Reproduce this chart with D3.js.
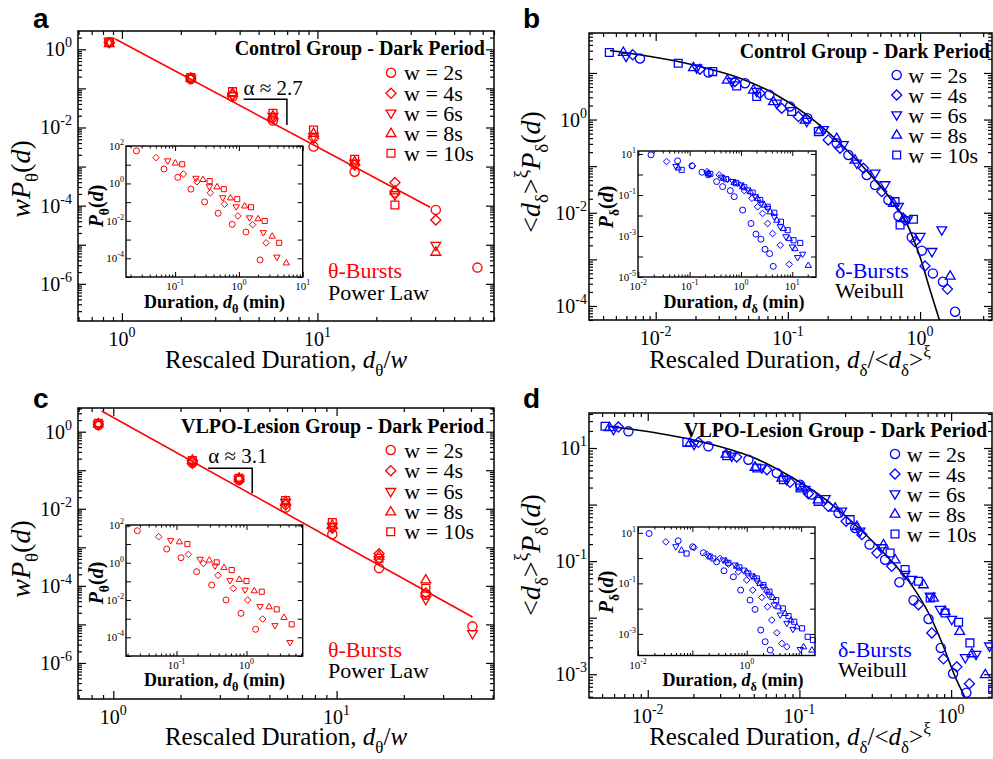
<!DOCTYPE html>
<html><head><meta charset="utf-8">
<script src="https://cdn.jsdelivr.net/npm/d3@7"></script>
<style>body{margin:0;background:#fff}svg{display:block}</style>
</head><body>
<svg id="chart" width="993" height="759"></svg>
<script>
// ---------------- DATA ----------------
const seriesNames = ["w = 2s", "w = 4s", "w = 6s", "w = 8s", "w = 10s"];

// Panel a: theta bursts, control group (rescaled)
const aMain_w2  = [[0.861,1.51],[2.25,0.174],[3.68,0.0616],[5.92,0.015],[9.55,0.00324],[15.5,7.4e-4],[24.9,2.16e-4],[40.3,7.8e-5],[65.8,2.6e-6]];
const aMain_w4  = [[0.861,1.48],[2.25,0.181],[3.68,0.0693],[5.92,0.0172],[9.55,0.0053],[15.5,0.0011],[24.9,3.9e-4],[40.3,4.3e-5]];
const aMain_w6  = [[0.861,1.57],[2.25,0.178],[3.68,0.064],[5.92,0.019],[9.55,0.00584],[15.5,0.00121],[24.9,1.88e-4],[40.3,9.5e-6]];
const aMain_w8  = [[0.861,1.42],[2.25,0.185],[3.68,0.075],[5.92,0.0201],[9.55,0.00711],[15.5,0.00134],[24.9,2.43e-4],[40.3,6.5e-6]];
const aMain_w10 = [[0.861,1.54],[2.25,0.188],[3.68,0.0826],[5.92,0.0231],[9.55,0.00865],[15.5,0.00154],[24.9,1.04e-4]];
const aFit = [[0.925,1.84],[37.7,9.1e-5]];
const aAlpha = {text:"\u03b1 \u2248 2.7", x0:4.19, x1:6.98, yTop:0.0526, yBot:0.0116, yText:0.0678};

// Panel a inset (raw durations, min)
const aIn_w2  = [[0.0248,54.7],[0.067,5.9],[0.110,2.1],[0.177,0.496],[0.290,0.103],[0.472,0.0254],[0.785,0.0065],[1.29,0.00252],[2.15,8.2e-5]];
const aIn_w4  = [[0.0501,24],[0.135,3.18],[0.22,1.23],[0.357,0.315],[0.594,0.0774],[0.965,0.0183],[1.64,0.00625],[2.67,6.7e-4]];
const aIn_w6  = [[0.0766,15.9],[0.212,1.86],[0.344,0.662],[0.559,0.17],[0.908,0.0557],[1.47,0.0143],[2.42,0.00232],[3.94,1.14e-4]];
const aIn_w8  = [[0.101,12.4],[0.273,1.64],[0.455,0.662],[0.738,0.17],[1.23,0.063],[2.0,0.0131],[3.32,0.00153],[5.52,5.7e-5]];
const aIn_w10 = [[0.129,10.5],[0.348,1.33],[0.58,0.496],[0.941,0.144],[1.55,0.0534],[2.54,0.00984],[4.28,6.7e-4]];

// Panel b: delta bursts, control group (rescaled)
const bMain_w2  = [[0.0076,20.4],[0.0251,10.2],[0.0474,6.03],[0.0724,3.39],[0.1038,1.9],[0.1406,1.07],[0.234,0.31],[0.287,0.174],[0.395,0.0648],[0.457,0.0395],[0.576,0.0188],[0.686,0.00853],[0.865,0.00297],[1.03,0.00154],[1.25,5.0e-4],[1.49,3.3e-4],[1.84,7.5e-5]];
const bMain_w4  = [[0.0067,24.5],[0.0216,12.0],[0.0398,6.55],[0.0615,3.68],[0.0898,1.75],[0.120,1.16],[0.202,0.366],[0.248,0.242],[0.373,0.0901],[0.513,0.0284],[0.770,0.0070],[0.916,0.0024],[1.09,7.2e-4],[1.61,2.3e-4]];
const bMain_w6  = [[0.00597,22.5],[0.0204,12.7],[0.0376,6.55],[0.0581,3.99],[0.0822,2.24],[0.139,0.906],[0.186,0.6],[0.263,0.286],[0.332,0.115],[0.457,0.0704],[0.543,0.0395],[0.686,0.0135],[0.802,0.007],[1.0,0.00307],[1.23,0.00146],[1.46,0.00427]];
const bMain_w8  = [[0.00569,27.9],[0.0193,13.1],[0.0348,7.11],[0.0548,4.34],[0.0777,2.44],[0.135,0.984],[0.175,0.6],[0.234,0.397],[0.322,0.136],[0.628,0.016],[0.748,0.0076],[1.69,4.4e-4]];
const bMain_w10 = [[0.00446,27.5],[0.0148,16.2],[0.027,10.7],[0.041,5.28],[0.0581,3.12],[0.107,1.49],[0.170,0.552],[0.647,0.0173],[0.706,0.00547],[0.891,0.00724]];
const bFit = [[0.00451,30.3],[0.0076,24.5],[0.0136,18.5],[0.0243,12.6],[0.0435,7.73],[0.0778,3.67],[0.139,1.26],[0.248,0.31],[0.444,0.055],[0.593,0.0205],[0.792,0.00594],[1.0,1.12e-3],[1.19,2.2e-4],[1.40,5.0e-5]];

// Panel b inset
const bIn_w2  = [[0.0177,9.14],[0.0583,4.64],[0.111,2.64],[0.174,1.29],[0.231,0.955],[0.336,0.451],[0.44,0.256],[0.62,0.163],[0.741,0.0828],[1.08,0.0184],[1.57,0.00408],[1.96,0.00123],[2.45,7.0e-4],[2.94,2.25e-4],[3.62,1.38e-4],[4.26,3.3e-5]];
const bIn_w4  = [[0.0356,4.31],[0.114,2.64],[0.218,1.39],[0.378,0.955],[0.55,0.586],[0.861,0.373],[1.16,0.163],[1.64,0.0687],[2.11,0.0268],[2.64,0.0126],[3.31,0.00408],[4.14,0.00132],[5.84,3.54e-4],[8.74,4.15e-5]];
const bIn_w6  = [[0.0542,2.45],[0.224,1.15],[0.42,0.734],[0.689,0.451],[1.0,0.309],[1.35,0.176],[1.9,0.0828],[2.53,0.0391],[3.31,0.0222],[4.46,0.00867],[5.84,0.0028],[7.53,9.1e-4],[10.1,2.9e-4],[12.7,8.8e-5],[15.9,1.28e-4]];
const bIn_w8  = [[0.06,2.1],[0.231,1.15],[0.459,0.656],[0.741,0.403],[1.08,0.256],[1.52,0.146],[2.11,0.0687],[2.85,0.0324],[3.73,0.0152],[5.03,0.00595],[6.78,0.00232],[8.74,7.5e-4],[11.3,2.43e-4],[20.5,3.7e-5]];
const bIn_w10 = [[0.0699,1.68],[0.253,1.07],[0.51,0.586],[0.8,0.373],[1.16,0.238],[1.69,0.13],[2.38,0.0569],[3.31,0.0268],[4.46,0.0136],[6.02,0.00493],[8.11,0.00192],[10.6,6.2e-4],[14.3,4.6e-4]];

// Panel c: theta bursts, VLPO-lesion group (rescaled)
const cMain_w2  = [[0.857,1.49],[2.26,0.157],[3.66,0.056],[5.91,0.0107],[9.57,0.00219],[15.5,2.88e-4],[25.1,5.9e-5],[40.6,8.9e-6]];
const cMain_w4  = [[0.857,1.58],[2.26,0.174],[3.66,0.0594],[5.91,0.0126],[9.57,0.00313],[15.5,6.8e-4],[25.1,6.5e-5]];
const cMain_w6  = [[0.857,1.52],[2.26,0.151],[3.66,0.0582],[5.91,0.0145],[9.57,0.00346],[15.5,4.7e-4],[25.1,4.4e-5],[40.6,5.7e-6]];
const cMain_w8  = [[0.857,1.61],[2.26,0.184],[3.66,0.063],[5.91,0.0154],[9.57,0.00382],[15.5,6.0e-4],[25.1,1.44e-4]];
const cMain_w10 = [[0.857,1.64],[2.26,0.177],[3.66,0.0618],[5.91,0.0163],[9.57,0.0044],[15.5,5.2e-4],[25.1,8.7e-5]];
const cFit = [[0.887,3.43],[40.6,1.55e-5]];
const cAlpha = {text:"\u03b1 \u2248 3.1", x0:2.66, x1:4.19, yTop:0.1127, yBot:0.0254, yText:0.152};

// Panel c inset
const cIn_w2  = [[0.0276,51.8],[0.0724,5.4],[0.116,1.85],[0.194,0.33],[0.318,0.0636],[0.51,0.0101],[0.834,0.00193],[1.35,2.7e-4]];
const cIn_w4  = [[0.0556,24.7],[0.148,2.79],[0.242,0.921],[0.392,0.21],[0.648,0.0422],[1.04,0.01],[1.70,9.6e-4]];
const cIn_w6  = [[0.0826,15.1],[0.217,1.51],[0.355,0.663],[0.581,0.109],[0.952,0.0343],[1.56,0.0044],[2.55,4.2e-4],[4.18,5.2e-5]];
const cIn_w8  = [[0.11,13.3],[0.294,1.39],[0.477,0.562],[0.79,0.128],[1.29,0.0316],[2.1,0.0044],[3.43,0.00118]];
const cIn_w10 = [[0.143,10],[0.375,1.04],[0.614,0.405],[1.0,0.104],[1.65,0.0279],[2.7,0.00316],[4.42,4.97e-4]];

// Panel d: delta bursts, VLPO-lesion group (rescaled)
const dMain_w2  = [[0.00746,19.7],[0.0251,10.7],[0.0461,6.22],[0.0709,3.61],[0.101,2.25],[0.1205,1.5],[0.181,0.71],[0.233,0.385],[0.29,0.196],[0.367,0.106],[0.456,0.0423],[0.565,0.0203],[0.71,0.0095],[0.855,0.00292],[1.03,0.00103],[1.26,4.7e-4]];
const dMain_w4  = [[0.0064,23.5],[0.0216,12.6],[0.0386,6.93],[0.061,4.14],[0.0867,2.47],[0.1146,1.56],[0.155,0.93],[0.203,0.506],[0.258,0.294],[0.324,0.139],[0.406,0.081],[0.609,0.017],[0.746,0.00537],[0.89,0.00187],[1.09,0.00135],[1.32,6.8e-4]];
const dMain_w6  = [[0.00594,21.1],[0.0202,11.5],[0.0358,7.13],[0.0565,4.43],[0.0825,2.75],[0.109,1.84],[0.148,1.26],[0.19,0.76],[0.251,0.337],[0.349,0.171],[0.497,0.0577],[0.551,0.0471],[0.728,0.0239],[0.846,0.0139],[1.01,0.00925],[1.24,0.00195],[1.46,0.00223],[1.79,0.00313]];
const dMain_w8  = [[0.00559,23.2],[0.019,12.3],[0.0328,7.84],[0.051,4.61],[0.0765,2.95],[0.104,2.05],[0.133,1.22],[0.172,0.871],[0.239,0.413],[0.358,0.196],[0.428,0.106],[0.657,0.0385],[0.765,0.0223],[0.913,0.013],[1.14,0.00575],[1.37,0.00232],[1.68,9.9e-4]];
const dMain_w10 = [[0.00523,24.2],[0.0181,12.6],[0.0332,7.33],[0.0523,4.43],[0.0784,2.75],[0.101,1.96],[0.133,1.14],[0.216,0.541],[0.396,0.139],[0.497,0.0708],[0.609,0.044],[0.728,0.0223],[0.913,0.0121],[1.12,0.0083],[1.33,0.00358],[1.88,5.4e-4]];
const dFit = [[0.00551,24.2],[0.01146,18.4],[0.0245,12.2],[0.0524,6.4],[0.0867,3.16],[0.144,1.31],[0.239,0.413],[0.396,0.106],[0.565,0.0336],[0.728,0.0106],[0.889,0.00313],[1.06,9.2e-4],[1.24,3.8e-4]];

// Panel d inset
const dIn_w2  = [[0.016,9.4],[0.0548,4.83],[0.101,2.8],[0.159,1.62],[0.279,0.714],[0.382,0.315],[0.568,0.182],[0.774,0.0542],[1.15,0.0218],[1.42,0.00933],[1.81,0.00142],[2.18,4.9e-4],[2.7,2.3e-4]];
const dIn_w4  = [[0.0325,4.41],[0.107,2.63],[0.183,1.43],[0.322,0.968],[0.459,0.578],[0.702,0.288],[1.0,0.135],[1.29,0.0542],[1.89,0.0278],[2.41,0.0119],[2.89,0.00353],[3.58,0.00111],[4.43,4.2e-4],[5.47,3.1e-4]];
const dIn_w6  = [[0.0497,2.8],[0.205,1.2],[0.371,0.832],[0.609,0.527],[0.868,0.334],[1.24,0.194],[1.53,0.127],[1.97,0.0734],[2.51,0.0344],[3.19,0.0138],[4.12,0.00557],[5.47,0.00261],[7.06,0.00151],[9.64,2.4e-4]];
const dIn_w8  = [[0.0632,2.07],[0.211,1.12],[0.415,0.782],[0.654,0.481],[1.0,0.288],[1.37,0.182],[1.76,0.0993],[2.34,0.0542],[3.02,0.0278],[3.84,0.0119],[5.09,0.00648],[6.48,0.00353],[8.37,0.00193],[11.1,3.1e-4],[15.8,2.3e-4]];
const dIn_w10 = [[0.0782,1.52],[0.243,0.968],[0.459,0.652],[0.732,0.427],[1.07,0.247],[1.53,0.157],[2.03,0.0855],[2.62,0.0466],[3.48,0.0218],[4.61,0.0102],[5.87,0.00508],[7.47,0.00303],[10.4,0.00166],[13.2,7.7e-4],[16.5,5.7e-4]];

// ---------------- STYLE ----------------
const SERIF = "'Liberation Serif','Times New Roman',Times,serif";
const SANS = "'Liberation Sans',Arial,Helvetica,sans-serif";
const RED = "#ff0000", BLUE = "#0000ff";

const svg = d3.select("#chart");
svg.append("rect").attr("width", 993).attr("height", 759).attr("fill", "#fff");

// custom marker shapes for d3.symbol (size = radius)
const symCircle = {draw(c, r){ c.moveTo(r,0); c.arc(0,0,r,0,2*Math.PI); }};
const symSquare = {draw(c, r){ const h=r*0.85; c.rect(-h,-h,2*h,2*h); }};
const symDiamond = {draw(c, r){ const d=r*1.1; c.moveTo(0,-d); c.lineTo(d,0); c.lineTo(0,d); c.lineTo(-d,0); c.closePath(); }};
const symUp = {draw(c, r){ const a=r*1.12; c.moveTo(0,-a); c.lineTo(a*0.95,a*0.62); c.lineTo(-a*0.95,a*0.62); c.closePath(); }};
const symDown = {draw(c, r){ const a=r*1.12; c.moveTo(0,a); c.lineTo(a*0.95,-a*0.62); c.lineTo(-a*0.95,-a*0.62); c.closePath(); }};
const symbolTypes = [symCircle, symDiamond, symDown, symUp, symSquare];

function decadeTicks(dom){
  const lo = Math.log10(dom[0]), hi = Math.log10(dom[1]);
  const major = [], minor = [];
  for (let e = Math.floor(lo); e <= Math.ceil(hi); e++) {
    const b = Math.pow(10, e);
    if (b >= dom[0]*0.999 && b <= dom[1]*1.001) major.push(b);
    for (let k = 2; k <= 9; k++) { const v = k*b; if (v >= dom[0] && v <= dom[1]) minor.push(v); }
  }
  return {major, minor};
}

function drawAxes(g, xs, ys, f, o){
  const xt = decadeTicks(xs.domain()), yt = decadeTicks(ys.domain());
  const defs = [[d3.axisBottom, f.y1, xs, 'x'], [d3.axisTop, f.y0, xs, 'x'], [d3.axisLeft, f.x0, ys, 'y'], [d3.axisRight, f.x1, ys, 'y']];
  defs.forEach(([ax, pos, sc, dim]) => {
    const t = dim === 'x' ? xt : yt;
    const showMinor = dim === 'x' ? o.xMinor : o.yMinor;
    const tr = dim === 'x' ? `translate(0,${pos})` : `translate(${pos},0)`;
    if (showMinor) {
      g.append('g').attr('transform', tr)
        .call(ax(sc).tickValues(t.minor).tickSize(-o.minLen).tickSizeOuter(0).tickFormat(''))
        .call(s => s.select('.domain').remove());
    }
    g.append('g').attr('transform', tr)
      .call(ax(sc).tickValues(t.major).tickSize(-o.majLen).tickSizeOuter(0).tickFormat(''))
      .call(s => s.select('.domain').remove());
  });
  g.selectAll('.tick line').attr('stroke', '#000').attr('stroke-width', o.tw);
  g.selectAll('.tick text').remove();
  g.append('rect').attr('x', f.x0).attr('y', f.y0).attr('width', f.x1 - f.x0).attr('height', f.y1 - f.y0)
    .attr('fill', 'none').attr('stroke', '#000').attr('stroke-width', o.fw);
}

function powLabel(g, x, y, exp, fs, sfs, sup, anchor){
  const t = g.append('text').attr('x', x).attr('y', y).attr('text-anchor', anchor)
    .attr('font-family', SERIF).attr('font-size', fs).attr('fill', '#000');
  t.append('tspan').text('10');
  t.append('tspan').attr('dy', -sup).attr('font-size', sfs).text(exp < 0 ? '-' + (-exp) : String(exp));
}

function rich(parent, x, y, parts, o){
  const t = parent.append('text').attr('x', x).attr('y', y)
    .attr('font-family', o.ff || SERIF).attr('font-size', o.fs).attr('fill', o.fill || '#000')
    .attr('text-anchor', o.anchor || 'start').attr('font-weight', o.bold ? 'bold' : 'normal');
  if (o.rot) t.attr('transform', `rotate(${o.rot},${x},${y})`);
  let cur = 0;
  parts.forEach(p => {
    const target = p.sub ? o.fs*0.3 : p.sup ? -o.fs*0.45 : 0;
    const ts = t.append('tspan').text(p.t);
    if (target !== cur) { ts.attr('dy', target - cur); cur = target; }
    if (p.sub || p.sup) ts.attr('font-size', o.fs*0.68);
    if (p.it) ts.attr('font-style', 'italic');
  });
  return t;
}

function drawMarkers(g, xs, ys, series, color, r, sw){
  series.forEach((data, i) => {
    const sym = d3.symbol().type(symbolTypes[i]).size(r);
    g.append('g').selectAll('path').data(data).join('path')
      .attr('d', sym)
      .attr('transform', d => `translate(${xs(d[0])},${ys(d[1])})`)
      .attr('fill', 'none').attr('stroke', color).attr('stroke-width', sw);
  });
}

// ---------------- PANELS ----------------
const panels = [
  { letter:'a', lx:33, ly:28, f:{x0:78,x1:494,y0:31,y1:321}, xd:[0.596,80], yd:[1.12e-7,2.94],
    xLab:[0,1], yLab:[0,-2,-4,-6], yLabEnd:72, color:RED,
    series:[aMain_w2,aMain_w4,aMain_w6,aMain_w8,aMain_w10], fit:aFit, curve:false, alpha:aAlpha,
    title:"Control Group - Dark Period", titleX:485, titleY:55,
    leg:{sx:391, tx:404, ys:[72.7,93.3,113.3,133.3,153.3]},
    burst:"\u03b8-Bursts", law:"Power Law", bx:328, by1:278, by2:300,
    xTitle:[{t:'Rescaled Duration, '},{t:'d',it:1},{t:'\u03b8',sub:1},{t:'/'},{t:'w',it:1}], xtX:286, xtY:368,
    yTitle:[{t:'wP',it:1},{t:'\u03b8',sub:1},{t:'('},{t:'d',it:1},{t:')'}], ytX:30, ytY:179,
    inset:{ f:{x0:126,x1:302.7,y0:146,y1:277}, xd:[0.017,10], yd:[1e-5,100], xLab:[-1,0,1], yLab:[2,0,-2,-4],
      series:[aIn_w2,aIn_w4,aIn_w6,aIn_w8,aIn_w10], sym:'\u03b8', ytX:103, ytY:206, xtX:214.5, xtY:308 } },
  { letter:'b', lx:523, ly:28, f:{x0:589,x1:992,y0:33,y1:320}, xd:[0.00313,3.5], yd:[5.0e-5,72],
    xLab:[-2,-1,0], yLab:[0,-2,-4], yLabEnd:587, color:BLUE,
    series:[bMain_w2,bMain_w4,bMain_w6,bMain_w8,bMain_w10], fit:bFit, curve:true, alpha:null,
    title:"Control Group - Dark Period", titleX:990, titleY:58,
    leg:{sx:896.7, tx:908.3, ys:[75,95,115,135,155]},
    burst:"\u03b4-Bursts", law:"Weibull", bx:835, by1:278, by2:298,
    xTitle:[{t:'Rescaled Duration, '},{t:'d',it:1},{t:'\u03b4',sub:1},{t:'/<'},{t:'d',it:1},{t:'\u03b4',sub:1},{t:'>'},{t:'\u03be',sup:1}], xtX:790, xtY:368,
    yTitle:[{t:'<'},{t:'d',it:1},{t:'\u03b4',sub:1},{t:'>'},{t:'\u03be',sup:1},{t:'P',it:1},{t:'\u03b4',sub:1},{t:'('},{t:'d',it:1},{t:')'}], ytX:540, ytY:172,
    inset:{ f:{x0:638,x1:816,y0:151,y1:277}, xd:[0.00987,29], yd:[1e-5,14], xLab:[-2,-1,0,1], yLab:[1,-1,-3,-5],
      series:[bIn_w2,bIn_w4,bIn_w6,bIn_w8,bIn_w10], sym:'\u03b4', ytX:613, ytY:207, xtX:734, xtY:308 } },
  { letter:'c', lx:33, ly:408, f:{x0:78,x1:494,y0:408,y1:699}, xd:[0.695,50.7], yd:[1.16e-7,4.12],
    xLab:[0,1], yLab:[0,-2,-4,-6], yLabEnd:72, color:RED,
    series:[cMain_w2,cMain_w4,cMain_w6,cMain_w8,cMain_w10], fit:cFit, curve:false, alpha:cAlpha,
    title:"VLPO-Lesion Group - Dark Period", titleX:484, titleY:433,
    leg:{sx:390.7, tx:404.3, ys:[450,470.7,491.7,511.7,531.7]},
    burst:"\u03b8-Bursts", law:"Power Law", bx:328, by1:657, by2:678,
    xTitle:[{t:'Rescaled Duration, '},{t:'d',it:1},{t:'\u03b8',sub:1},{t:'/'},{t:'w',it:1}], xtX:286, xtY:745,
    yTitle:[{t:'wP',it:1},{t:'\u03b8',sub:1},{t:'('},{t:'d',it:1},{t:')'}], ytX:30, ytY:559,
    inset:{ f:{x0:126,x1:302.7,y0:525,y1:656}, xd:[0.019,6.35], yd:[1e-5,105], xLab:[-1,0], yLab:[2,0,-2,-4],
      series:[cIn_w2,cIn_w4,cIn_w6,cIn_w8,cIn_w10], sym:'\u03b8', ytX:103, ytY:583, xtX:214.5, xtY:686 } },
  { letter:'d', lx:523, ly:408, f:{x0:589,x1:992,y0:413,y1:698}, xd:[0.0041,1.86], yd:[3.8e-4,41.6],
    xLab:[-2,-1,0], yLab:[1,-1,-3], yLabEnd:587, color:BLUE,
    series:[dMain_w2,dMain_w4,dMain_w6,dMain_w8,dMain_w10], fit:dFit, curve:true, alpha:null,
    title:"VLPO-Lesion Group - Dark Period", titleX:987, titleY:437,
    leg:{sx:895, tx:906.7, ys:[454,474,494,514,534]},
    burst:"\u03b4-Bursts", law:"Weibull", bx:838, by1:657, by2:677,
    xTitle:[{t:'Rescaled Duration, '},{t:'d',it:1},{t:'\u03b4',sub:1},{t:'/<'},{t:'d',it:1},{t:'\u03b4',sub:1},{t:'>'},{t:'\u03be',sup:1}], xtX:790, xtY:745,
    yTitle:[{t:'<'},{t:'d',it:1},{t:'\u03b4',sub:1},{t:'>'},{t:'\u03be',sup:1},{t:'P',it:1},{t:'\u03b4',sub:1},{t:'('},{t:'d',it:1},{t:')'}], ytX:540, ytY:555,
    inset:{ f:{x0:638,x1:815,y0:527,y1:655.5}, xd:[0.01,18], yd:[1.4e-4,17], xLab:[-2,0], yLab:[1,-1,-3],
      series:[dIn_w2,dIn_w4,dIn_w6,dIn_w8,dIn_w10], sym:'\u03b4', ytX:613, ytY:592, xtX:733, xtY:686 } }
];

panels.forEach(p => {
  const g = svg.append('g');
  const f = p.f;
  const xs = d3.scaleLog().domain(p.xd).range([f.x0, f.x1]);
  const ys = d3.scaleLog().domain(p.yd).range([f.y1, f.y0]);

  // panel letter
  g.append('text').attr('x', p.lx).attr('y', p.ly).attr('font-family', SANS).attr('font-weight', 'bold')
    .attr('font-size', 28).text(p.letter);

  drawAxes(g, xs, ys, f, {majLen:8, minLen:4, tw:1.2, fw:1.5, xMinor:true, yMinor:true});

  // tick labels
  p.xLab.forEach(e => powLabel(g, xs(Math.pow(10, e)), f.y1 + 25, e, 20, 14, 9, 'middle'));
  p.yLab.forEach(e => powLabel(g, p.yLabEnd, ys(Math.pow(10, e)) + 7, e, 20, 14, 9, 'end'));

  // axis titles
  rich(g, p.xtX, p.xtY, p.xTitle, {fs:25, anchor:'middle'});
  rich(g, p.ytX, p.ytY, p.yTitle, {fs:28, anchor:'middle', rot:-90});

  // fit
  const line = d3.line().x(d => xs(d[0])).y(d => ys(d[1]));
  if (p.curve) line.curve(d3.curveMonotoneX);
  g.append('path').datum(p.fit).attr('d', line).attr('fill', 'none')
    .attr('stroke', p.curve ? '#000' : p.color).attr('stroke-width', 1.6);

  // alpha bracket
  if (p.alpha) {
    const a = p.alpha;
    g.append('path').attr('d', `M${xs(a.x0)},${ys(a.yTop)}H${xs(a.x1)}V${ys(a.yBot)}`)
      .attr('fill', 'none').attr('stroke', '#000').attr('stroke-width', 1.5);
    g.append('text').attr('x', xs(a.x0)).attr('y', ys(a.yText)).attr('font-family', SERIF)
      .attr('font-size', 21).text(a.text);
  }

  // data markers
  drawMarkers(g, xs, ys, p.series, p.color, 4.6, 1.3);

  // legend
  g.append('text').attr('x', p.titleX).attr('y', p.titleY).attr('text-anchor', 'end')
    .attr('font-family', SERIF).attr('font-weight', 'bold').attr('font-size', 20).text(p.title);
  seriesNames.forEach((nm, i) => {
    const cy = p.leg.ys[i];
    g.append('path').attr('d', d3.symbol().type(symbolTypes[i]).size(4.6)())
      .attr('transform', `translate(${p.leg.sx},${cy})`)
      .attr('fill', 'none').attr('stroke', p.color).attr('stroke-width', 1.3);
    g.append('text').attr('x', p.leg.tx).attr('y', cy + 7.5).attr('font-family', SERIF)
      .attr('font-size', 22).text(nm);
  });
  g.append('text').attr('x', p.bx).attr('y', p.by1).attr('font-family', SERIF).attr('font-size', 22)
    .attr('fill', p.color).text(p.burst);
  g.append('text').attr('x', p.bx).attr('y', p.by2).attr('font-family', SERIF).attr('font-size', 22)
    .attr('fill', '#000').text(p.law);

  // inset
  const q = p.inset, fi = q.f;
  const ig = g.append('g');
  ig.append('rect').attr('x', fi.x0).attr('y', fi.y0).attr('width', fi.x1 - fi.x0).attr('height', fi.y1 - fi.y0).attr('fill', '#fff');
  const ixs = d3.scaleLog().domain(q.xd).range([fi.x0, fi.x1]);
  const iys = d3.scaleLog().domain(q.yd).range([fi.y1, fi.y0]);
  drawAxes(ig, ixs, iys, fi, {majLen:5, minLen:2.5, tw:1, fw:1.4, xMinor:true, yMinor:false});
  q.xLab.forEach(e => powLabel(ig, ixs(Math.pow(10, e)), fi.y1 + 13, e, 11, 8, 5, 'middle'));
  q.yLab.forEach(e => powLabel(ig, fi.x0 - 2, iys(Math.pow(10, e)) + 4, e, 11, 8, 5, 'end'));
  drawMarkers(ig, ixs, iys, q.series, p.color, 3.0, 1.0);
  rich(ig, q.xtX, q.xtY, [{t:'Duration, '},{t:'d',it:1},{t:q.sym,sub:1},{t:' (min)'}], {fs:18, anchor:'middle', bold:true});
  rich(ig, q.ytX, q.ytY, [{t:'P',it:1},{t:q.sym,sub:1},{t:'('},{t:'d',it:1},{t:')'}], {fs:20, anchor:'middle', bold:true, rot:-90});
});
</script>
</body></html>
